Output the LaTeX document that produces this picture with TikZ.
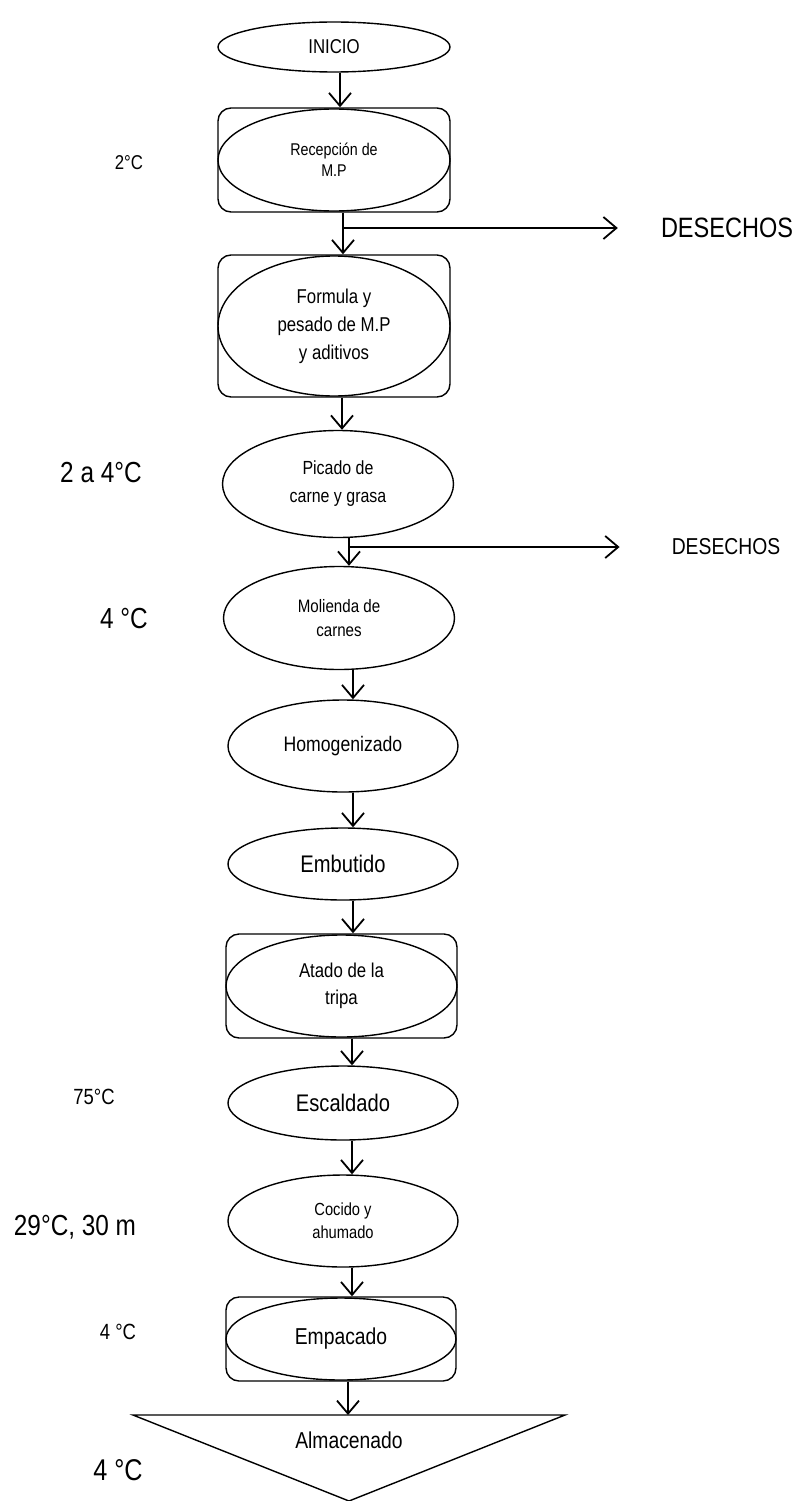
\documentclass[tikz,border=0pt]{standalone}
\usepackage{fontspec}
\setmainfont{Liberation Sans}[FakeStretch=0.84]
\usetikzlibrary{shapes.geometric,arrows.meta,calc}
\begin{document}
\begin{tikzpicture}[x=1pt,y=-1pt,
  ell/.style={draw, ellipse, line width=1.4pt, inner sep=0pt, align=center},
  rbox/.style={draw, rounded corners=13pt, line width=1.4pt, inner sep=0pt},
  arr/.style={line width=1.8pt, -{Straight Barb[length=13pt,width=22pt,line width=1.8pt]}},
  lbl/.style={inner sep=0pt, align=center},
  fs/.style 2 args={font=\fontsize{#1}{#2}\selectfont}
]
\useasboundingbox (0,0) rectangle (801,1501);

% process shapes
\node[ell, minimum width=232, minimum height=50, fs={20}{24}] (inicio) at (334,47) {INICIO};

\node[rbox, minimum width=232, minimum height=104] (recbox) at (334,160) {};
\node[ell, minimum width=232, minimum height=102, fs={17}{21}] (rec) at (334,160) {Recepción de\\M.P};

\node[rbox, minimum width=232, minimum height=142] (formbox) at (334,326) {};
\node[ell, minimum width=232, minimum height=140, fs={20}{28}] (form) at (334,326) {Formula y\\pesado de M.P\\y aditivos};

\node[ell, minimum width=231, minimum height=107, fs={19}{28}] (pic) at (338,484) {Picado de\\carne y grasa};

\node[ell, minimum width=231, minimum height=103, fs={18}{24}] (mol) at (339,618) {Molienda de\\carnes};

\node[ell, minimum width=230, minimum height=92, fs={21}{25}] (hom) at (343,746) {Homogenizado};

\node[ell, minimum width=230, minimum height=72, fs={24}{28}] (emb) at (343,864) {Embutido};

\node[rbox, minimum width=231, minimum height=104] (atbox) at (341.5,986) {};
\node[ell, minimum width=231, minimum height=102, fs={20}{27}] (at) at (341.5,986) {Atado de la\\tripa};

\node[ell, minimum width=230, minimum height=74, fs={24}{28}] (esc) at (343,1103) {Escaldado};

\node[ell, minimum width=230, minimum height=92, fs={17.5}{23}] (coc) at (343,1221) {Cocido y\\ahumado};

\node[rbox, minimum width=230, minimum height=84] (empbox) at (341,1339) {};
\node[ell, minimum width=230, minimum height=82, fs={23}{27}] (emp) at (341,1339) {Empacado};

% storage triangle
\coordinate (tl) at (133,1415);
\coordinate (tr) at (565,1415);
\coordinate (tb) at (349,1501);
\coordinate (tritop) at (348,1415);
\draw[line width=1.4pt] (tl) -- (tr) -- (tb) -- cycle;
\node[lbl, fs={23}{27}] (alm) at (349,1440) {Almacenado};

% waste labels
\node[lbl, fs={28}{32}] (des1) at (727,228) {DESECHOS};
\node[lbl, fs={23}{27}] (des2) at (726,547) {DESECHOS};

% temperature labels
\node[lbl, fs={20}{24}] (t1) at (129,163) {2°C};
\node[lbl, fs={29}{33}] (t2) at (101,473) {2 a 4°C};
\node[lbl, fs={29}{33}] (t3) at (124,619) {4 °C};
\node[lbl, fs={22}{26}] (t4) at (94,1097) {75°C};
\node[lbl, fs={29}{33}] (t5) at (75,1227) {29°C, 30 m};
\node[lbl, fs={22}{26}] (t6) at (118,1332) {4 °C};
\node[lbl, fs={30}{34}] (t7) at (118,1470) {4 °C};

% main flow
\draw[arr] ([xshift=6pt]inicio.south) -- ([xshift=6pt]recbox.north);
\draw[arr] ([xshift=9pt]recbox.south) -- ([xshift=9pt]formbox.north);
\draw[arr] ([xshift=8pt]formbox.south) -- ([xshift=4pt]pic.north);
\draw[arr] ([xshift=11pt]pic.south) -- ([xshift=10pt]mol.north);
\draw[arr] ([xshift=14pt]mol.south) -- ([xshift=10pt]hom.north);
\draw[arr] ([xshift=10pt]hom.south) -- ([xshift=10pt]emb.north);
\draw[arr] ([xshift=10pt]emb.south) -- ([xshift=11.5pt]atbox.north);
\draw[arr] ([xshift=10.5pt]atbox.south) -- ([xshift=9pt]esc.north);
\draw[arr] ([xshift=9pt]esc.south) -- ([xshift=9pt]coc.north);
\draw[arr] ([xshift=9pt]coc.south) -- ([xshift=11pt]empbox.north);
\draw[arr] ([xshift=7pt]empbox.south) -- (tritop);

% waste branches
\coordinate (b1) at (343,228);
\coordinate (b2) at (349,547);
\draw[arr] (b1) -- ([xshift=-43pt]des1.west);
\draw[arr] (b2) -- ([xshift=-52pt]des2.west);
\end{tikzpicture}
\end{document}
